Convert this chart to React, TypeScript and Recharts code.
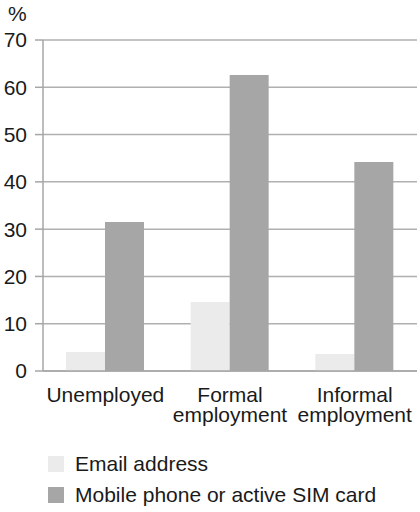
import React from 'react'
import { BarChart, Bar, XAxis, YAxis, CartesianGrid } from 'recharts'

const categories = ['Unemployed', 'Formal\nemployment', 'Informal\nemployment']
const emailAddress = [4.0, 14.6, 3.6]
const mobilePhone = [31.5, 62.6, 44.2]
const yTicks = [0, 10, 20, 30, 40, 50, 60, 70]
const seriesNames = ['Email address', 'Mobile phone or active SIM card']
const seriesColors = ['#ebebeb', '#a6a6a6']

const data = categories.map((c, i) => ({
  category: c,
  email: emailAddress[i],
  mobile: mobilePhone[i],
}))

const FONT = '"Liberation Sans", Arial, sans-serif'

function CategoryTick({ x, y, payload }: any) {
  const lines = String(payload.value).split('\n')
  return (
    <text x={x} y={y + 29} textAnchor="middle" fill="#1a1a1a" fontSize={21} fontFamily={FONT}>
      {lines.map((l, i) => (
        <tspan key={i} x={x} dy={i === 0 ? 0 : 20}>
          {l}
        </tspan>
      ))}
    </text>
  )
}

export default function App() {
  return (
    <div style={{ position: 'absolute', left: 0, top: 0, width: 420, height: 512, fontFamily: FONT, background: '#fff' }}>
      <div style={{ position: 'absolute', left: 8, top: 3, fontSize: 21, lineHeight: '21px', color: '#1a1a1a' }}>%</div>
      <BarChart
        width={420}
        height={440}
        data={data}
        margin={{ top: 40, right: 3, left: 0, bottom: 0 }}
        barGap={0}
        barSize={39}
      >
        <CartesianGrid vertical={false} stroke="#b0b0b0" strokeWidth={1.5} />
        <XAxis
          dataKey="category"
          height={69}
          tick={<CategoryTick />}
          tickLine={false}
          tickSize={0}
          interval={0}
          axisLine={{ stroke: '#a6a6a6', strokeWidth: 1.5 }}
        />
        <YAxis
          width={43}
          domain={[0, 70]}
          ticks={yTicks}
          interval={0}
          tickSize={8}
          tickMargin={8}
          tick={{ fontSize: 21, fill: '#1a1a1a', fontFamily: FONT }}
          axisLine={{ stroke: '#a6a6a6', strokeWidth: 1.5 }}
          tickLine={{ stroke: '#a6a6a6', strokeWidth: 1.5 }}
        />
        <Bar dataKey="email" name={seriesNames[0]} fill={seriesColors[0]} isAnimationActive={false} />
        <Bar dataKey="mobile" name={seriesNames[1]} fill={seriesColors[1]} isAnimationActive={false} />
      </BarChart>
      {seriesNames.map((n, i) => (
        <div
          key={n}
          style={{ position: 'absolute', left: 48, top: 456 + i * 31, height: 16, display: 'flex', alignItems: 'center' }}
        >
          <span style={{ display: 'inline-block', width: 16, height: 16, background: seriesColors[i] }} />
          <span style={{ marginLeft: 11, fontSize: 21, color: '#1a1a1a', whiteSpace: 'nowrap' }}>{n}</span>
        </div>
      ))}
    </div>
  )
}
